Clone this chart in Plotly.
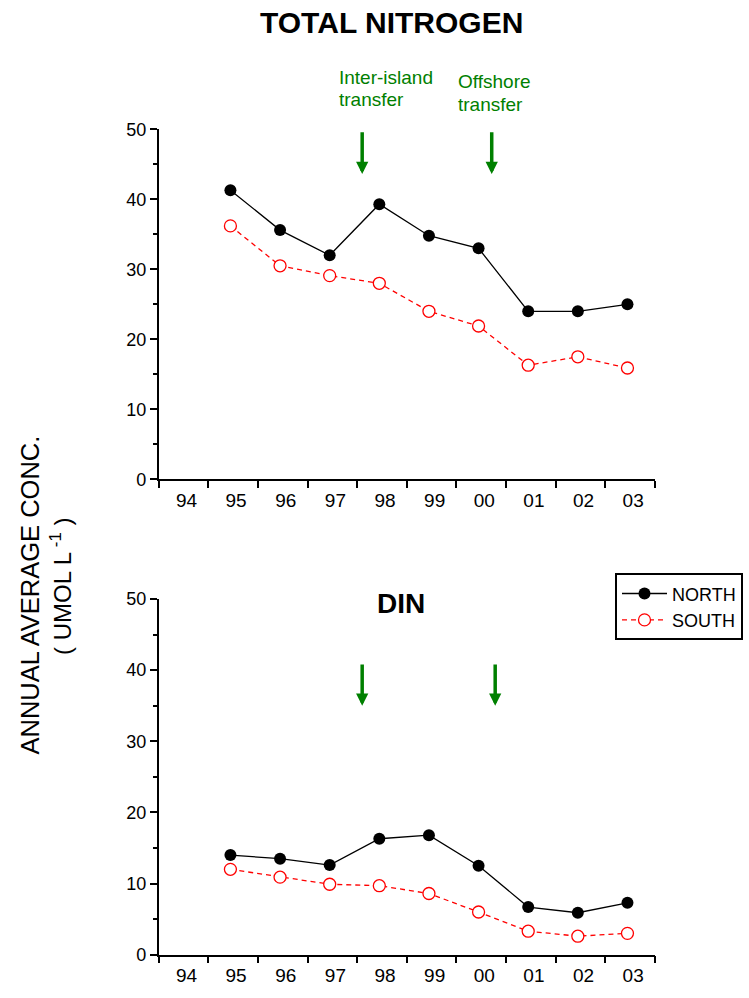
import plotly.graph_objects as go

# ---------------- data ----------------
years = [1995, 1996, 1997, 1998, 1999, 2000, 2001, 2002, 2003]
tn_north = [41.3, 35.6, 32.0, 39.3, 34.8, 33.0, 24.0, 24.0, 25.0]
tn_south = [36.2, 30.5, 29.1, 28.0, 24.0, 21.9, 16.3, 17.5, 15.9]
din_north = [14.0, 13.5, 12.6, 16.3, 16.8, 12.5, 6.7, 5.9, 7.3]
din_south = [12.0, 10.9, 9.9, 9.7, 8.6, 6.0, 3.3, 2.6, 3.0]
tick_years = [1994, 1995, 1996, 1997, 1998, 1999, 2000, 2001, 2002, 2003]
tick_labels = ["94", "95", "96", "97", "98", "99", "00", "01", "02", "03"]
events = ["Inter-island transfer", "Offshore transfer"]
event_x_top = [1998.1, 2000.71]
event_x_bot = [1998.1, 2000.78]

# ---------------- layout helpers ----------------
W, H = 749, 998
FONT = "Liberation Sans, Arial, Helvetica, sans-serif"
GREEN = "#008000"


def px(x):
    return x / W


def py(y):
    return 1 - y / H


POINT_OFFSET = 0.445
xpos = [y + POINT_OFFSET for y in years]

fig = go.Figure()

series = [
    ("NORTH", "x", "y", tn_north, True),
    ("SOUTH", "x", "y", tn_south, True),
    ("NORTH", "x2", "y2", din_north, False),
    ("SOUTH", "x2", "y2", din_south, False),
]
for name, xa, ya, vals, legend in series:
    if name == "NORTH":
        line = dict(color="black", width=1.3)
        marker = dict(size=12, color="black", symbol="circle")
    else:
        line = dict(color="red", width=1.3, dash="5px,4px")
        marker = dict(size=12, color="white", symbol="circle",
                      line=dict(color="red", width=1.3))
    fig.add_trace(go.Scatter(
        x=xpos, y=vals, mode="lines+markers", name=name,
        line=line, marker=marker, xaxis=xa, yaxis=ya,
        showlegend=legend, legendgroup=name, cliponaxis=False))

xdom = [px(158.7), px(655)]
common_x = dict(
    range=[1994, 2004], showgrid=False, zeroline=False,
    showline=True, linecolor="black", linewidth=1.5,
    tickmode="array",
    tickvals=[y + 0.56 for y in tick_years], ticktext=tick_labels,
    ticks="outside", ticklen=0, tickcolor="black",
    ticklabelstandoff=3,
    tickfont=dict(family=FONT, size=19, color="black"),
    minor=dict(tickmode="array", tickvals=tick_years + [2004],
               ticks="outside", ticklen=7, tickwidth=1.5, tickcolor="black"),
    fixedrange=True, automargin=False,
)
common_y = dict(
    range=[0, 50], showgrid=False, zeroline=False,
    showline=True, linecolor="black", linewidth=1.5,
    tickmode="linear", tick0=0, dtick=10,
    ticks="outside", ticklen=7, tickwidth=1.5, tickcolor="black",
    tickfont=dict(family=FONT, size=18, color="black"),
    minor=dict(dtick=5, ticks="outside", ticklen=4, tickwidth=1.5, tickcolor="black"),
    fixedrange=True, automargin=False,
)

fig.update_layout(
    width=W, height=H,
    margin=dict(l=0, r=0, t=0, b=0, autoexpand=False),
    paper_bgcolor="white", plot_bgcolor="white",
    font=dict(family=FONT, color="black"),
    xaxis=dict(domain=xdom, anchor="y", **common_x),
    yaxis=dict(domain=[py(479.3), py(129.3)], anchor="x", **common_y),
    xaxis2=dict(domain=xdom, anchor="y2", **common_x),
    yaxis2=dict(domain=[py(954.7), py(599)], anchor="x2", **common_y),
    legend=dict(x=px(615), y=py(573.3), xanchor="left", yanchor="top",
                bordercolor="black", borderwidth=2, bgcolor="white",
                font=dict(family=FONT, size=18, color="black"),
                itemwidth=45, tracegroupgap=0),
    showlegend=True,
)

ann = []
# titles
ann.append(dict(text="<b>TOTAL NITROGEN</b>", x=px(391.7), y=py(22), xref="paper", yref="paper",
                xanchor="center", yanchor="middle", showarrow=False,
                font=dict(family=FONT, size=30, color="black")))
ann.append(dict(text="<b>DIN</b>", x=px(401), y=py(603), xref="paper", yref="paper",
                xanchor="center", yanchor="middle", showarrow=False,
                font=dict(family=FONT, size=28, color="black")))
# y axis title
ann.append(dict(text="ANNUAL AVERAGE CONC.", x=px(29.5), y=py(595), xref="paper", yref="paper",
                xanchor="center", yanchor="middle", showarrow=False, textangle=-90,
                font=dict(family=FONT, size=25.5, color="black")))
ann.append(dict(text="( UMOL L<sup> -1</sup> )", x=px(61), y=py(587), xref="paper", yref="paper",
                xanchor="center", yanchor="middle", showarrow=False, textangle=-90,
                font=dict(family=FONT, size=24, color="black")))
# event labels
label_lines = [("Inter-island", 337.3, 77), ("transfer", 337.3, 99.7),
               ("Offshore", 455.7, 81), ("transfer", 455.7, 104)]
for txt, lx, ly in label_lines:
    ann.append(dict(text=txt, x=px(lx), y=py(ly), xref="paper", yref="paper",
                    xanchor="left", yanchor="middle", showarrow=False,
                    font=dict(family=FONT, size=19, color=GREEN)))
# arrows
for ex in event_x_top:
    ann.append(dict(text="", x=ex, y=43.6, ax=ex, ay=49.8, xref="x", yref="y",
                    axref="x", ayref="y", showarrow=True, arrowhead=2,
                    arrowsize=0.7, arrowwidth=3.5, arrowcolor=GREEN, standoff=0))
for ex in event_x_bot:
    ann.append(dict(text="", x=ex, y=35.0, ax=ex, ay=41.0, xref="x2", yref="y2",
                    axref="x2", ayref="y2", showarrow=True, arrowhead=2,
                    arrowsize=0.7, arrowwidth=3.5, arrowcolor=GREEN, standoff=0))
fig.update_layout(annotations=ann)

fig.write_html("out.html")
